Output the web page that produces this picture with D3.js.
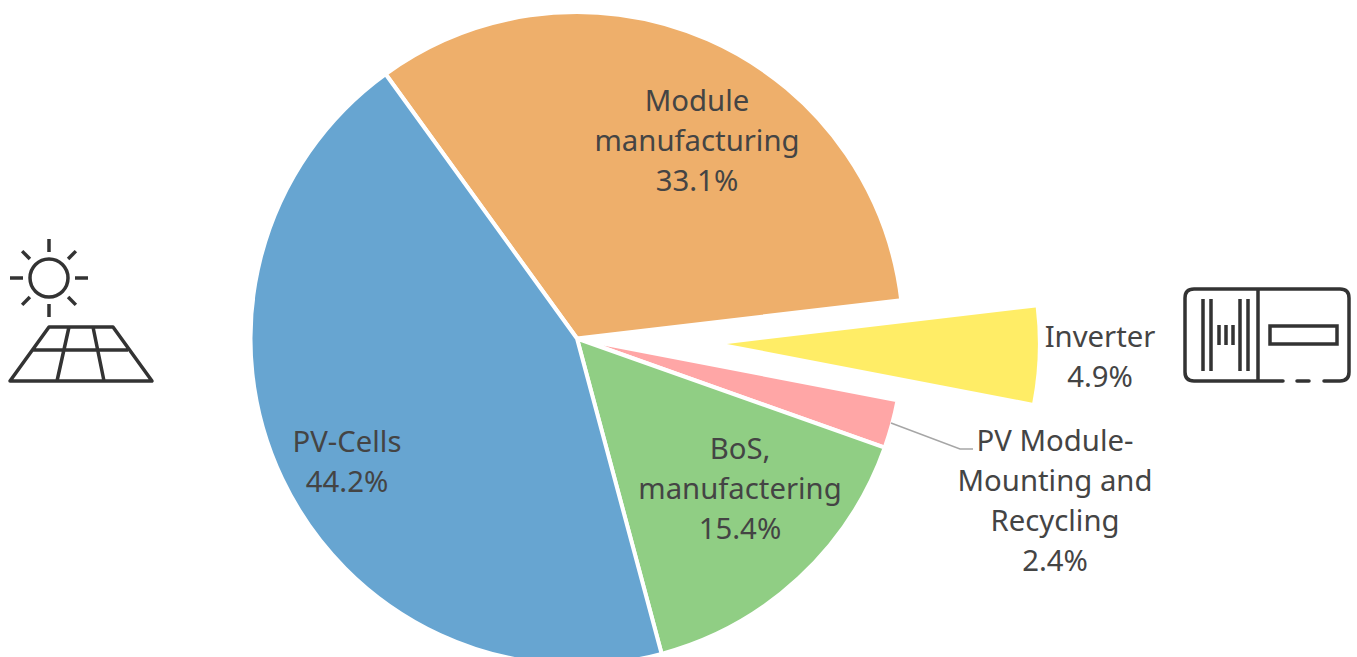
<!DOCTYPE html>
<html>
<head>
<meta charset="utf-8">
<script src="https://cdn.jsdelivr.net/npm/d3@7"></script>
<style>
  html, body { margin: 0; padding: 0; background: #fff; overflow: hidden; }
  svg { display: block; }
</style>
</head>
<body>
<svg id="chart" width="1357" height="657"></svg>
<script>
const categories = ['Module manufacturing', 'Inverter', 'PV Module-Mounting and Recycling', 'BoS, manufactering', 'PV-Cells'];
const shares = [33.1, 4.9, 2.4, 15.4, 44.2];
const colors = ['#eeaf6b', '#ffed66', '#ffa6a6', '#90ce84', '#67a5d1'];
const labelLines = [
  ['Module', 'manufacturing', '33.1%'],
  ['Inverter', '4.9%'],
  ['PV Module-', 'Mounting and', 'Recycling', '2.4%'],
  ['BoS,', 'manufactering', '15.4%'],
  ['PV-Cells', '44.2%']
];

const svg = d3.select('#chart');
const cx = 577, cy = 338.5, radius = 326.5;
const deg = Math.PI / 180;

const pie = d3.pie()
  .sort(null)
  .value(d => d)
  .startAngle(-35.9 * deg)
  .endAngle(324.1 * deg);

const arc = d3.arc().innerRadius(0);

// slice tweaks: inverter is pulled out and drawn a bit smaller
const explode = [0, 150, 0, 0, 0];
const sliceRadius = [radius, 311, radius, radius, radius];
const strokeWidth = [4, 0, 4, 4, 4];

// label centres, relative to the pie centre
const labelPos = [[120, -197.5], [523, 18.5], [478, 162], [163, 150], [-230, 123.5]];
const lineHeight = 40;

const g = svg.append('g').attr('transform', `translate(${cx},${cy})`);

g.selectAll('path.slice')
  .data(pie(shares))
  .enter()
  .append('path')
  .attr('class', 'slice')
  .attr('d', (d, i) => arc.outerRadius(sliceRadius[i])(d))
  .attr('transform', (d, i) => {
    const mid = (d.startAngle + d.endAngle) / 2;
    return `translate(${explode[i] * Math.sin(mid)},${-explode[i] * Math.cos(mid)})`;
  })
  .attr('fill', (d, i) => colors[i])
  .attr('stroke', '#fff')
  .attr('stroke-width', (d, i) => strokeWidth[i])
  .attr('stroke-linejoin', 'round');

// leader line for the small slice
svg.append('path')
  .attr('d', 'M891,423L960,449L973,449')
  .attr('fill', 'none')
  .attr('stroke', '#a6a6a6')
  .attr('stroke-width', 1.5);

const labels = g.selectAll('text.label')
  .data(labelLines)
  .enter()
  .append('text')
  .attr('class', 'label')
  .attr('aria-label', (d, i) => categories[i])
  .attr('font-family', '"Noto Sans", sans-serif')
  .attr('font-size', 29.3)
  .attr('fill', '#444')
  .attr('text-anchor', 'middle');

labels.selectAll('tspan')
  .data((d, i) => d.map((t, j) => ({
    t: t,
    x: labelPos[i][0],
    y: labelPos[i][1] + (j - (d.length - 1) / 2) * lineHeight
  })))
  .enter()
  .append('tspan')
  .attr('x', d => d.x)
  .attr('y', d => d.y)
  .attr('dy', '0.35em')
  .text(d => d.t);

// icons
const icons = svg.append('g')
  .attr('fill', 'none')
  .attr('stroke', '#333')
  .attr('stroke-width', 3.5);

const sun = icons.append('g');
sun.append('circle').attr('cx', 49).attr('cy', 278).attr('r', 19);
d3.range(8).forEach(i => {
  const a = i * 45 * deg;
  const r0 = i % 2 ? 27 : 26, r1 = i % 2 ? 38 : 39;
  sun.append('line')
    .attr('x1', 49 + r0 * Math.cos(a)).attr('y1', 278 + r0 * Math.sin(a))
    .attr('x2', 49 + r1 * Math.cos(a)).attr('y2', 278 + r1 * Math.sin(a));
});
icons.append('path')
  .attr('stroke-linejoin', 'round')
  .attr('d', 'M49,327H113L152,381H10Z M33,350H128 M69,327L57,381 M93,327L104,381');

const inverter = icons.append('g').attr('stroke-linecap', 'round');
inverter.append('path')
  .attr('d', 'M1283,381H1194Q1185,381 1185,372V298Q1185,289 1194,289H1340Q1349,289 1349,298V372Q1349,381 1340,381H1324 M1297,381H1309 M1258,289V381');
inverter.append('path')
  .attr('stroke-linecap', 'butt')
  .attr('d', 'M1203,299V371 M1211,299V371 M1240,299V371 M1248,299V371 M1219,325V345 M1226,325V345 M1233,325V345');
inverter.append('rect')
  .attr('x', 1270).attr('y', 326).attr('width', 67).attr('height', 18);
</script>
</body>
</html>
